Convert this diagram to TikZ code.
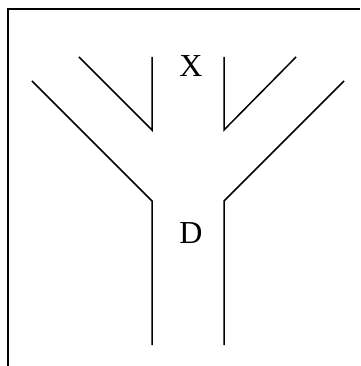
\documentclass[tikz,border=0pt]{standalone}
\usepackage{fontspec}
\setmainfont{Liberation Serif}
\begin{document}
\begin{tikzpicture}[x=1pt,y=-1pt,
  frameline/.style={line width=2pt},
  pipe/.style={line width=1.5pt},
  lbl/.style={font=\fontsize{32}{36}\selectfont, inner sep=0pt}]
\useasboundingbox (0,0) rectangle (360,366);
% frame
\draw[frameline] (8,366) -- (8,9.5) -- (360,9.5);
% coordinates
\coordinate (ol) at (32,81);
\coordinate (olc) at (152,201);
\coordinate (olb) at (152,345);
\coordinate (il) at (79,57);
\coordinate (ilc) at (152,130);
\coordinate (ilt) at (152,57);
\coordinate (ir) at (296,57);
\coordinate (irc) at (224,130);
\coordinate (irt) at (224,57);
\coordinate (or) at (344,81);
\coordinate (orc) at (224,201);
\coordinate (orb) at (224,345);
% branches
\draw[pipe] (ol) -- (olc) -- (olb);
\draw[pipe] (il) -- (ilc) -- (ilt);
\draw[pipe] (ir) -- (irc) -- (irt);
\draw[pipe] (or) -- (orc) -- (orb);
% labels
\node[lbl] (x) at (191,66) {X};
\node[lbl] (d) at (191,233) {D};
\end{tikzpicture}
\end{document}
